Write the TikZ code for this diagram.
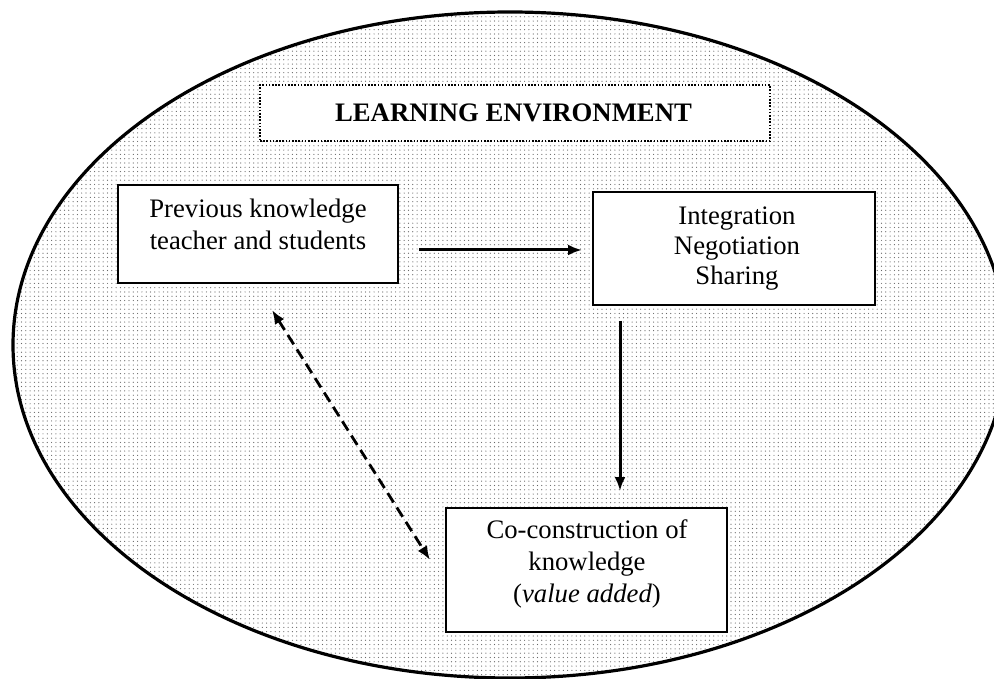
\documentclass[tikz,border=0pt]{standalone}
\usepackage{fontspec}
\setmainfont{Liberation Serif}
\usetikzlibrary{arrows.meta,patterns.meta}
\tikzset{
  boxstyle/.style={draw=black, line width=2pt, fill=white, inner sep=0pt},
  titlebox/.style={draw=black, line width=1.8pt, dash pattern=on 1.6pt off 1.6pt, fill=white, inner sep=0pt},
  txt/.style={font=\fontsize{26.7}{31}\selectfont, anchor=base, inner sep=0pt},
  solidarrow/.style={line width=3pt, -{Latex[length=14pt,width=11pt]}},
  dasharrow/.style={line width=2.8pt, dash pattern=on 11pt off 6pt, {Latex[length=14pt,width=11pt]}-{Latex[length=14pt,width=11pt]}},
}
\begin{document}
\begin{tikzpicture}[x=1pt,y=-1pt]
\useasboundingbox (0,0) rectangle (994,679);
\fill[white] (0,0) rectangle (994,679);
\clip (0,0) rectangle (994,679);
% environment ellipse
\draw[line width=3.2pt, pattern={Dots[distance=4.3pt,radius=0.6pt]}, pattern color=black!60]
  (510,345) ellipse [x radius=497pt, y radius=333pt];
% title
\node[titlebox, minimum width=510pt, minimum height=56pt] (title) at (515,113) {};
\node[txt, font=\fontsize{26.7}{31}\selectfont\bfseries] (titletext) at (513.5,122) {LEARNING ENVIRONMENT};
% box A
\node[boxstyle, minimum width=280pt, minimum height=98pt] (boxA) at (258,234) {};
\node[txt] (a1) at (258,218) {Previous knowledge};
\node[txt] (a2) at (258,250) {teacher and students};
% box B
\node[boxstyle, minimum width=282pt, minimum height=113pt] (boxB) at (734,248.5) {};
\node[txt] (b1) at (737,225) {Integration};
\node[txt] (b2) at (737,255) {Negotiation};
\node[txt] (b3) at (737,285) {Sharing};
% box C
\node[boxstyle, minimum width=281pt, minimum height=124pt] (boxC) at (586.5,570) {};
\node[txt] (c1) at (587,538) {Co-construction of};
\node[txt] (c2) at (587,570) {knowledge};
\node[txt] (c3) at (587,602) {(\textit{value added})};
% arrows
\draw[solidarrow, shorten <=20pt, shorten >=10pt]
  ([yshift=-16pt]boxA.east) -- ([yshift=-16pt]boxA.east -| boxB.west);
\draw[solidarrow, shorten <=15pt, shorten >=16pt]
  ([xshift=28pt]boxB.south west) -- ([xshift=28pt]boxB.south west |- boxC.north);
\coordinate (d1) at (272,310);
\coordinate (d2) at (430,560);
\draw[dasharrow] (d1) -- (d2);
\end{tikzpicture}
\end{document}
